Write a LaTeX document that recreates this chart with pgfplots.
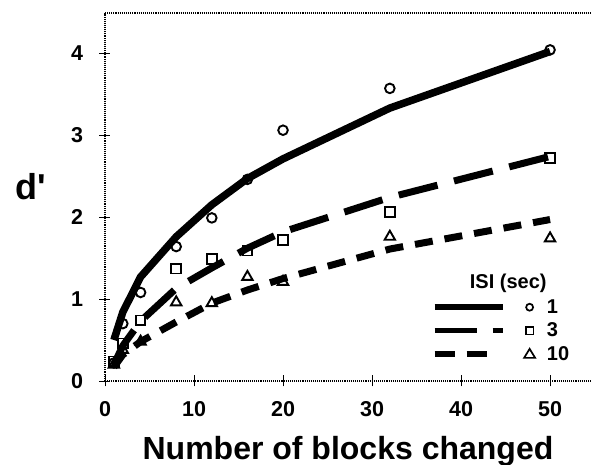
\documentclass[border=0pt]{standalone}
\usepackage{fontspec}
\newfontfamily\arialb{Liberation Sans}
\usepackage{pgfplots}
\pgfplotsset{compat=1.18}

% fitted curves and observed d' for three inter-stimulus intervals
\pgfplotstableread{
x   one   three  ten
1   0.50  0.20   0.17
2   0.84  0.43   0.32
4   1.27  0.73   0.48
8   1.76  1.13   0.72
12  2.15  1.38   0.95
16  2.47  1.62   1.11
20  2.71  1.82   1.25
32  3.33  2.24   1.61
50  4.02  2.74   1.97
}\fits

\pgfplotstableread{
x   one   three  ten
1   0.22  0.24   0.20
2   0.70  0.46   0.38
4   1.08  0.74   0.48
8   1.64  1.37   0.96
12  1.99  1.49   0.95
16  2.46  1.59   1.27
20  3.06  1.72   1.21
32  3.57  2.06   1.76
50  4.04  2.72   1.74
}\obs

\begin{document}
\begin{tikzpicture}
\begin{axis}[
  scale only axis, width=486pt, height=368pt,
  xmin=0, xmax=54.6, ymin=0, ymax=4.49,
  axis x line=bottom, axis y line=left,
  axis line style={-, line width=1.1pt, densely dotted},
  xtick={0,10,...,50}, ytick={0,1,...,4},
  tick align=center, major tick length=11pt,
  tick style={line width=0.9pt, solid, black},
  ticklabel style={font=\arialb\bfseries\fontsize{21.5}{21.5}\selectfont},
  /pgf/number format/assume math mode=true,
  xticklabel style={yshift=-11pt},
  yticklabel style={xshift=-13pt},
  xlabel={Number of blocks changed},
  xlabel style={at={(rel axis cs:0.5,0)}, anchor=base, yshift=-78pt,
    font=\arialb\bfseries\fontsize{32}{32}\selectfont},
  ylabel={d'},
  ylabel style={rotate=-90, at={(rel axis cs:0,0)}, anchor=base west,
    xshift=-93pt, yshift=181pt,
    font=\arialb\bfseries\fontsize{36}{36}\selectfont},
  clip=false,
  legend style={at={(axis cs:36.7,1.02)}, anchor=north west, draw=none, fill=none,
    font=\arialb\bfseries\fontsize{20}{20}\selectfont, row sep=4pt, inner sep=0pt,
    /tikz/every odd column/.append style={column sep=9pt}},
  legend cell align=left,
]
% observed values
\addplot[only marks, mark=o, mark size=4.8pt, line width=1.9pt, mark options={fill=white}, forget plot]
  table[x=x, y=one] {\obs};
\addplot[only marks, mark=square, mark size=4.8pt, line width=1.9pt, mark options={fill=white}, forget plot]
  table[x=x, y=three] {\obs};
\addplot[only marks, mark=triangle, mark size=6pt, line width=1.9pt, mark options={fill=white}, forget plot]
  table[x=x, y=ten] {\obs};

% fitted curves
\addplot[black, line width=7.5pt, line join=round, forget plot] table[x=x, y=one] {\fits};
\addplot[black, line width=7pt, dash pattern=on 40pt off 17pt, forget plot] table[x=x, y=three] {\fits};
\addplot[black, line width=7pt, dash pattern=on 18pt off 12pt, forget plot] table[x=x, y=ten] {\fits};

% legend entries: line sample followed by its marker
\addlegendimage{legend image code/.code={
  \draw[black, line width=5.5pt] (0pt,0pt) -- (68pt,0pt);
  \draw[black, line width=1.7pt] (95pt,0pt) circle (3.5pt);}}
\addlegendentry{1}
\addlegendimage{legend image code/.code={
  \draw[black, line width=5.5pt, dash pattern=on 42pt off 16pt] (0pt,0pt) -- (68pt,0pt);
  \draw[black, line width=1.7pt] (91.2pt,-3.8pt) rectangle (98.8pt,3.8pt);}}
\addlegendentry{3}
\addlegendimage{legend image code/.code={
  \draw[black, line width=5.5pt, dash pattern=on 20pt off 12pt] (0pt,0pt) -- (52pt,0pt);
  \draw[black, line width=1.7pt] (89.5pt,-3.8pt) -- (100.5pt,-3.8pt) -- (95pt,5.2pt) -- cycle;}}
\addlegendentry{10}

\node[font=\arialb\bfseries\fontsize{20}{20}\selectfont] at (axis cs:45.3,1.19) {ISI (sec)};

\draw[line width=1.1pt, densely dotted] (rel axis cs:0,1) -- (rel axis cs:1,1);
\end{axis}
\pgfresetboundingbox
\path[use as bounding box] (current axis.south west) ++(-105pt,-84pt) rectangle ++(591pt,465pt);
\end{tikzpicture}
\end{document}
